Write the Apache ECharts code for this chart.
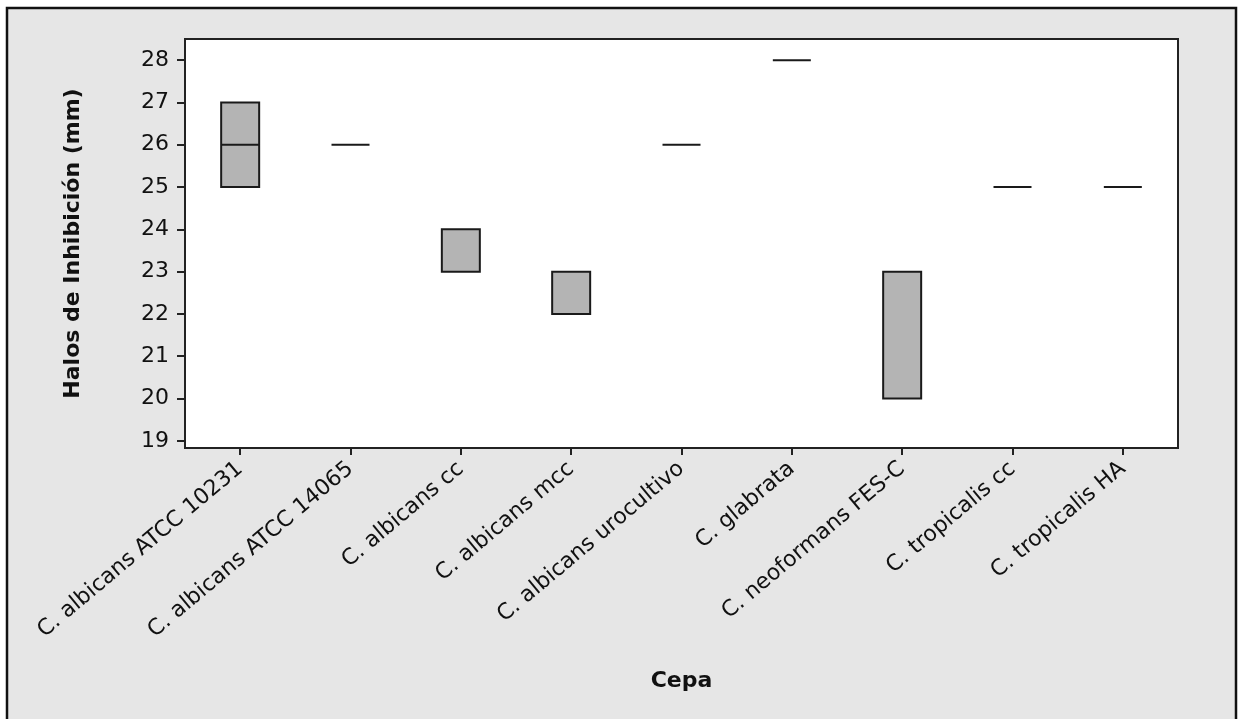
<!DOCTYPE html>
<html>
<head>
<meta charset="utf-8">
<script src="https://cdn.jsdelivr.net/npm/echarts@6/dist/echarts.min.js"></script>
<style>
  html, body { margin: 0; padding: 0; background: #ffffff; }
  #chart { width: 1238px; height: 719px; }
</style>
</head>
<body>
<div id="chart"></div>
<script>
// Strains on the category axis
const categories = [
  'C. albicans ATCC 10231',
  'C. albicans ATCC 14065',
  'C. albicans cc',
  'C. albicans mcc',
  'C. albicans urocultivo',
  'C. glabrata',
  'C. neoformans FES-C',
  'C. tropicalis cc',
  'C. tropicalis HA'
];

// Inhibition halo summary per strain (mm)
const minValues    = [25, 26, 23, 22, 26, 28, 20, 25, 25];
const q1Values     = [25, 26, 23, 22, 26, 28, 20, 25, 25];
const medianValues = [26, 26, 24, 23, 26, 28, 23, 25, 25];
const q3Values     = [27, 26, 24, 23, 26, 28, 23, 25, 25];
const maxValues    = [27, 26, 24, 23, 26, 28, 23, 25, 25];

// Y-axis tick values
const yTicks = [19, 20, 21, 22, 23, 24, 25, 26, 27, 28];

const boxData = categories.map((c, i) => [
  minValues[i], q1Values[i], medianValues[i], q3Values[i], maxValues[i]
]);

const chart = echarts.init(document.getElementById('chart'), null, { renderer: 'canvas' });

const textColor = '#111111';
const fontFamily = 'DejaVu Sans, Verdana, sans-serif';

chart.setOption({
  backgroundColor: '#ffffff',
  animation: false,
  graphic: [{
    type: 'rect',
    z: -10,
    silent: true,
    shape: { x: 7, y: 8, width: 1229, height: 730 },
    style: { fill: '#e6e6e6', stroke: '#111111', lineWidth: 2.5 }
  }],
  grid: {
    left: 185, top: 39, right: 60, bottom: 271,
    show: true,
    backgroundColor: '#ffffff',
    borderColor: '#222222',
    borderWidth: 2
  },
  xAxis: {
    type: 'category',
    data: categories,
    boundaryGap: true,
    name: 'Cepa',
    nameLocation: 'middle',
    nameGap: 222,
    nameTextStyle: { fontFamily, fontSize: 22, fontWeight: 'bold', color: textColor },
    axisLine: { show: true, lineStyle: { color: '#222222', width: 2 } },
    axisTick: { show: true, alignWithLabel: true, length: 7, lineStyle: { color: '#222222', width: 2 } },
    axisLabel: {
      interval: 0,
      rotate: 40,
      margin: 18,
      fontFamily,
      fontSize: 22,
      color: textColor
    },
    splitLine: { show: false }
  },
  yAxis: {
    type: 'value',
    min: 18.83,
    max: 28.5,
    name: 'Halos de Inhibición (mm)',
    nameLocation: 'middle',
    nameGap: 101,
    nameRotate: 90,
    nameTextStyle: { fontFamily, fontSize: 22, fontWeight: 'bold', color: textColor },
    axisLine: { show: true, lineStyle: { color: '#222222', width: 2 } },
    axisTick: { show: true, length: 8, customValues: yTicks, lineStyle: { color: '#222222', width: 2 } },
    axisLabel: {
      customValues: yTicks,
      margin: 16,
      fontFamily,
      fontSize: 22,
      color: textColor
    },
    splitLine: { show: false }
  },
  series: [{
    type: 'boxplot',
    data: boxData,
    boxWidth: [38, 38],
    itemStyle: {
      color: '#b4b4b4',
      borderColor: '#1a1a1a',
      borderWidth: 2
    },
    emphasis: { disabled: true }
  }]
});
</script>
</body>
</html>
